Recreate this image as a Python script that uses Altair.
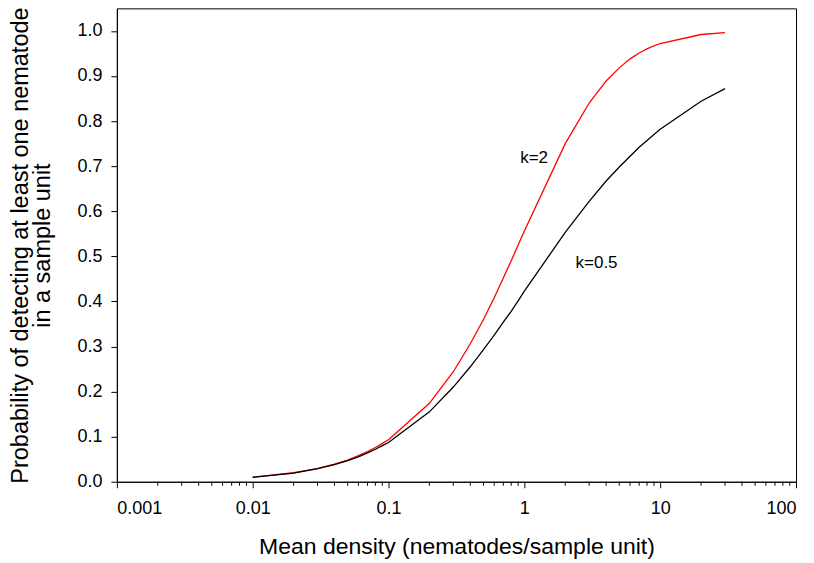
import altair as alt
import pandas as pd

# Mean density values (nematodes / sample unit)
density = [0.01, 0.02, 0.03, 0.04, 0.05, 0.06, 0.07, 0.08, 0.09,
           0.1, 0.2, 0.3, 0.4, 0.5, 0.6, 0.7, 0.8, 0.9,
           1, 2, 3, 4, 5, 6, 7, 8, 9, 10, 20, 30]
# Probability of detection
prob_k2 = [0.010, 0.020, 0.029, 0.039, 0.048, 0.058, 0.067, 0.076, 0.085,
           0.093, 0.174, 0.244, 0.306, 0.360, 0.408, 0.452, 0.490, 0.525,
           0.556, 0.750, 0.840, 0.889, 0.918, 0.938, 0.951, 0.960, 0.967,
           0.972, 0.992, 0.996]
prob_k05 = [0.010, 0.019, 0.029, 0.038, 0.047, 0.055, 0.064, 0.072, 0.080,
            0.087, 0.155, 0.210, 0.255, 0.293, 0.325, 0.354, 0.378, 0.401,
            0.423, 0.553, 0.622, 0.667, 0.698, 0.722, 0.742, 0.757, 0.770,
            0.782, 0.844, 0.872]

series_names = ["k=2", "k=0.5"]
series_colors = ["#ff0000", "#000000"]

label_text = ["k=2", "k=0.5"]
label_x = [1.18, 3.4]
label_y = [0.717, 0.485]

x_major = [0.001, 0.01, 0.1, 1, 10, 100]
x_minor = [m * d for d in [0.001, 0.01, 0.1, 1, 10] for m in range(2, 10)]
y_ticks = [round(i * 0.1, 1) for i in range(11)]

W, H = 680, 474
FONT = "Liberation Sans"

rows = []
for name, vals in zip(series_names, [prob_k2, prob_k05]):
    for d, p in zip(density, vals):
        rows.append({"density": d, "prob": p, "series": name})
df = pd.DataFrame(rows)

xscale = alt.Scale(type="log", domain=[0.001, 100], nice=False)
yscale = alt.Scale(domain=[0, 1.05], nice=False, zero=True)

lines = alt.Chart(df).mark_line(strokeWidth=1.3).encode(
    x=alt.X("density:Q", scale=xscale,
            axis=alt.Axis(values=x_major, format="~g", title="Mean density (nematodes/sample unit)",
                          tickSize=6, labelPadding=12, titlePadding=18, grid=False,
                          titleFontSize=23)),
    y=alt.Y("prob:Q", scale=yscale,
            axis=alt.Axis(values=y_ticks, format=".1f",
                          title=["Probability of detecting at least one nematode", "in a sample unit"],
                          tickSize=6, labelPadding=9, titlePadding=22, grid=False,
                          titleFontSize=23.5, titleLineHeight=22)),
    color=alt.Color("series:N", scale=alt.Scale(domain=series_names, range=series_colors), legend=None),
    detail="series:N",
)

minor = alt.Chart(pd.DataFrame({"m": x_minor})).mark_rule(color="black", strokeWidth=1).encode(
    x=alt.X("m:Q", scale=xscale),
    y=alt.value(H),
    y2=alt.value(H + 4),
)

labels = alt.Chart(pd.DataFrame({"t": label_text, "x": label_x, "y": label_y})).mark_text(
    font=FONT, fontSize=17, color="black"
).encode(
    x=alt.X("x:Q", scale=xscale),
    y=alt.Y("y:Q", scale=yscale),
    text="t:N",
)

chart = alt.layer(lines, minor, labels).properties(
    width=W, height=H,
    autosize=alt.AutoSizeParams(type="none"),
    padding={"left": 109, "top": 0, "right": 10, "bottom": 80},
).configure_view(
    stroke="black", strokeWidth=1
).configure_axis(
    domainColor="black", tickColor="black", labelColor="black", titleColor="black",
    labelFont=FONT, titleFont=FONT, labelFontSize=18,
    titleFontWeight="normal", domainWidth=1, tickWidth=1,
)

chart.save("out.html", embed_options={"renderer": "svg", "actions": False})
